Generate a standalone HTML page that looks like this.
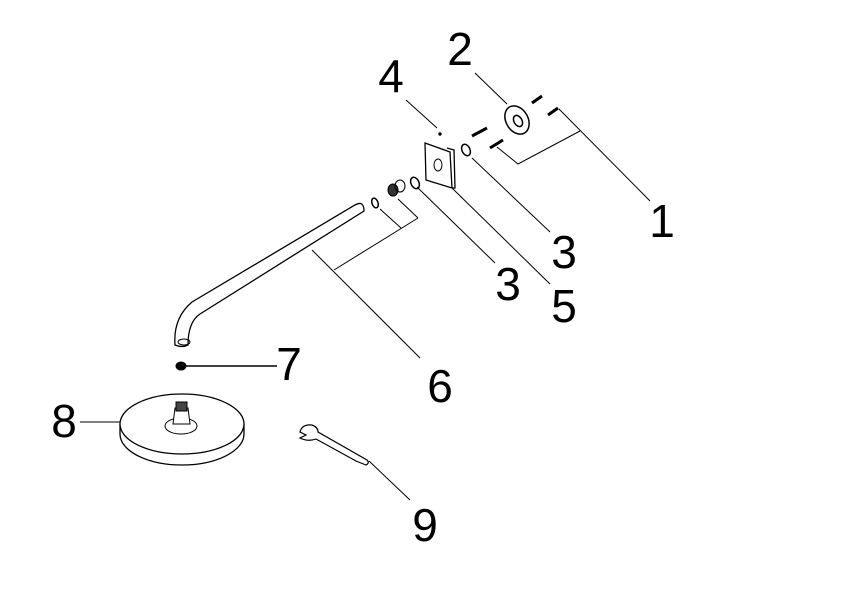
<!DOCTYPE html>
<html><head><style>
html,body{margin:0;padding:0;background:#fff;}
svg{display:block;}
text{font-family:"Liberation Sans",sans-serif;font-size:46px;fill:#000;text-anchor:middle;}
</style></head><body>
<svg width="841" height="595" viewBox="0 0 841 595" xmlns="http://www.w3.org/2000/svg">
<g fill="none" stroke="#000" stroke-width="1">
<!-- leaders -->
<line x1="475" y1="73" x2="507" y2="104"/>
<line x1="406" y1="100" x2="437" y2="128"/>
<polyline points="497,147 518,164 580,131"/>
<line x1="559" y1="109" x2="650" y2="201"/>
<line x1="472" y1="158" x2="550" y2="232"/>
<line x1="452" y1="188" x2="550" y2="284"/>
<line x1="417" y1="187" x2="495" y2="263"/>
<line x1="380" y1="209" x2="401" y2="228"/>
<line x1="398" y1="199" x2="418" y2="218"/>
<line x1="418" y1="218" x2="334" y2="270"/>
<line x1="312" y1="250" x2="420" y2="358"/>
<line x1="185" y1="366" x2="277" y2="366" stroke-width="1.5"/>
<line x1="80" y1="422" x2="122" y2="422"/>
<line x1="369" y1="461" x2="410" y2="500"/>
<!-- arm -->
<path d="M355,205 Q364,200 364,211 L200,314 Q188,322 188,345 Q182,348 175,345 Q173,318 192,302 Z" stroke-width="1.3"/>
<!-- small parts -->
<ellipse cx="375" cy="203" rx="3" ry="5" transform="rotate(-20 375 203)" stroke-width="1.5"/>
<ellipse cx="393" cy="190" rx="5" ry="6" fill="#333" stroke-width="1"/>
<ellipse cx="400" cy="186" rx="5" ry="6"/>
<ellipse cx="415" cy="183" rx="4" ry="6" transform="rotate(-25 415 183)" stroke-width="1.5"/>
<ellipse cx="466" cy="150" rx="4" ry="6" transform="rotate(-25 466 150)" stroke-width="1.5"/>
<!-- plate -->
<path d="M425,143 L450,152 L452,188 L426,180 Z" stroke-width="1.3"/>
<path d="M447,148 L454,150 L455,188 L452,188" stroke-width="1.3"/>
<ellipse cx="438" cy="165" rx="4" ry="6"/>
<circle cx="440" cy="134" r="1.2" fill="#000"/>
<!-- flange -->
<ellipse cx="517" cy="120" rx="11" ry="15" transform="rotate(-30 517 120)" stroke-width="1.5"/>
<ellipse cx="518" cy="121" rx="4" ry="6" transform="rotate(-30 518 121)" stroke-width="1.5"/>
<!-- screws -->
<g stroke-width="3">
<line x1="532" y1="103" x2="542" y2="96"/>
<line x1="548" y1="115" x2="558" y2="108"/>
<line x1="472" y1="136" x2="487" y2="128"/>
<line x1="490" y1="148" x2="503" y2="140"/>
</g>
<!-- 7 washer -->
<ellipse cx="181" cy="366" rx="5" ry="4" fill="#000"/>
<ellipse cx="184" cy="342" rx="6" ry="3"/>
<!-- shower head -->
<path d="M120,424 L120,434 A62,31 0 0 0 244,434 L244,424" stroke-width="1.3"/>
<ellipse cx="182" cy="424" rx="62" ry="30" fill="#fff" stroke-width="1.3"/>
<ellipse cx="181" cy="426" rx="16" ry="8"/>
<path d="M173,424 L175,408 L188,408 L190,424 Z" fill="#fff"/>
<rect x="176" y="402" width="11" height="9" fill="#444"/>
<!-- wrench -->
<path d="M300,432 Q302,424 312,425 Q318,427 318,432 L367,460 Q370,463 366,465 L356,461 L316,439 Q308,442 300,438 L306,435 Z" stroke-width="1.2"/>
</g>
<text x="460" y="65">2</text>
<text x="391" y="92">4</text>
<text x="662" y="237">1</text>
<text x="564" y="268">3</text>
<text x="508" y="300">3</text>
<text x="564" y="322">5</text>
<text x="289" y="380">7</text>
<text x="440" y="402">6</text>
<text x="64" y="437">8</text>
<text x="425" y="541">9</text>
</svg>
</body></html>
